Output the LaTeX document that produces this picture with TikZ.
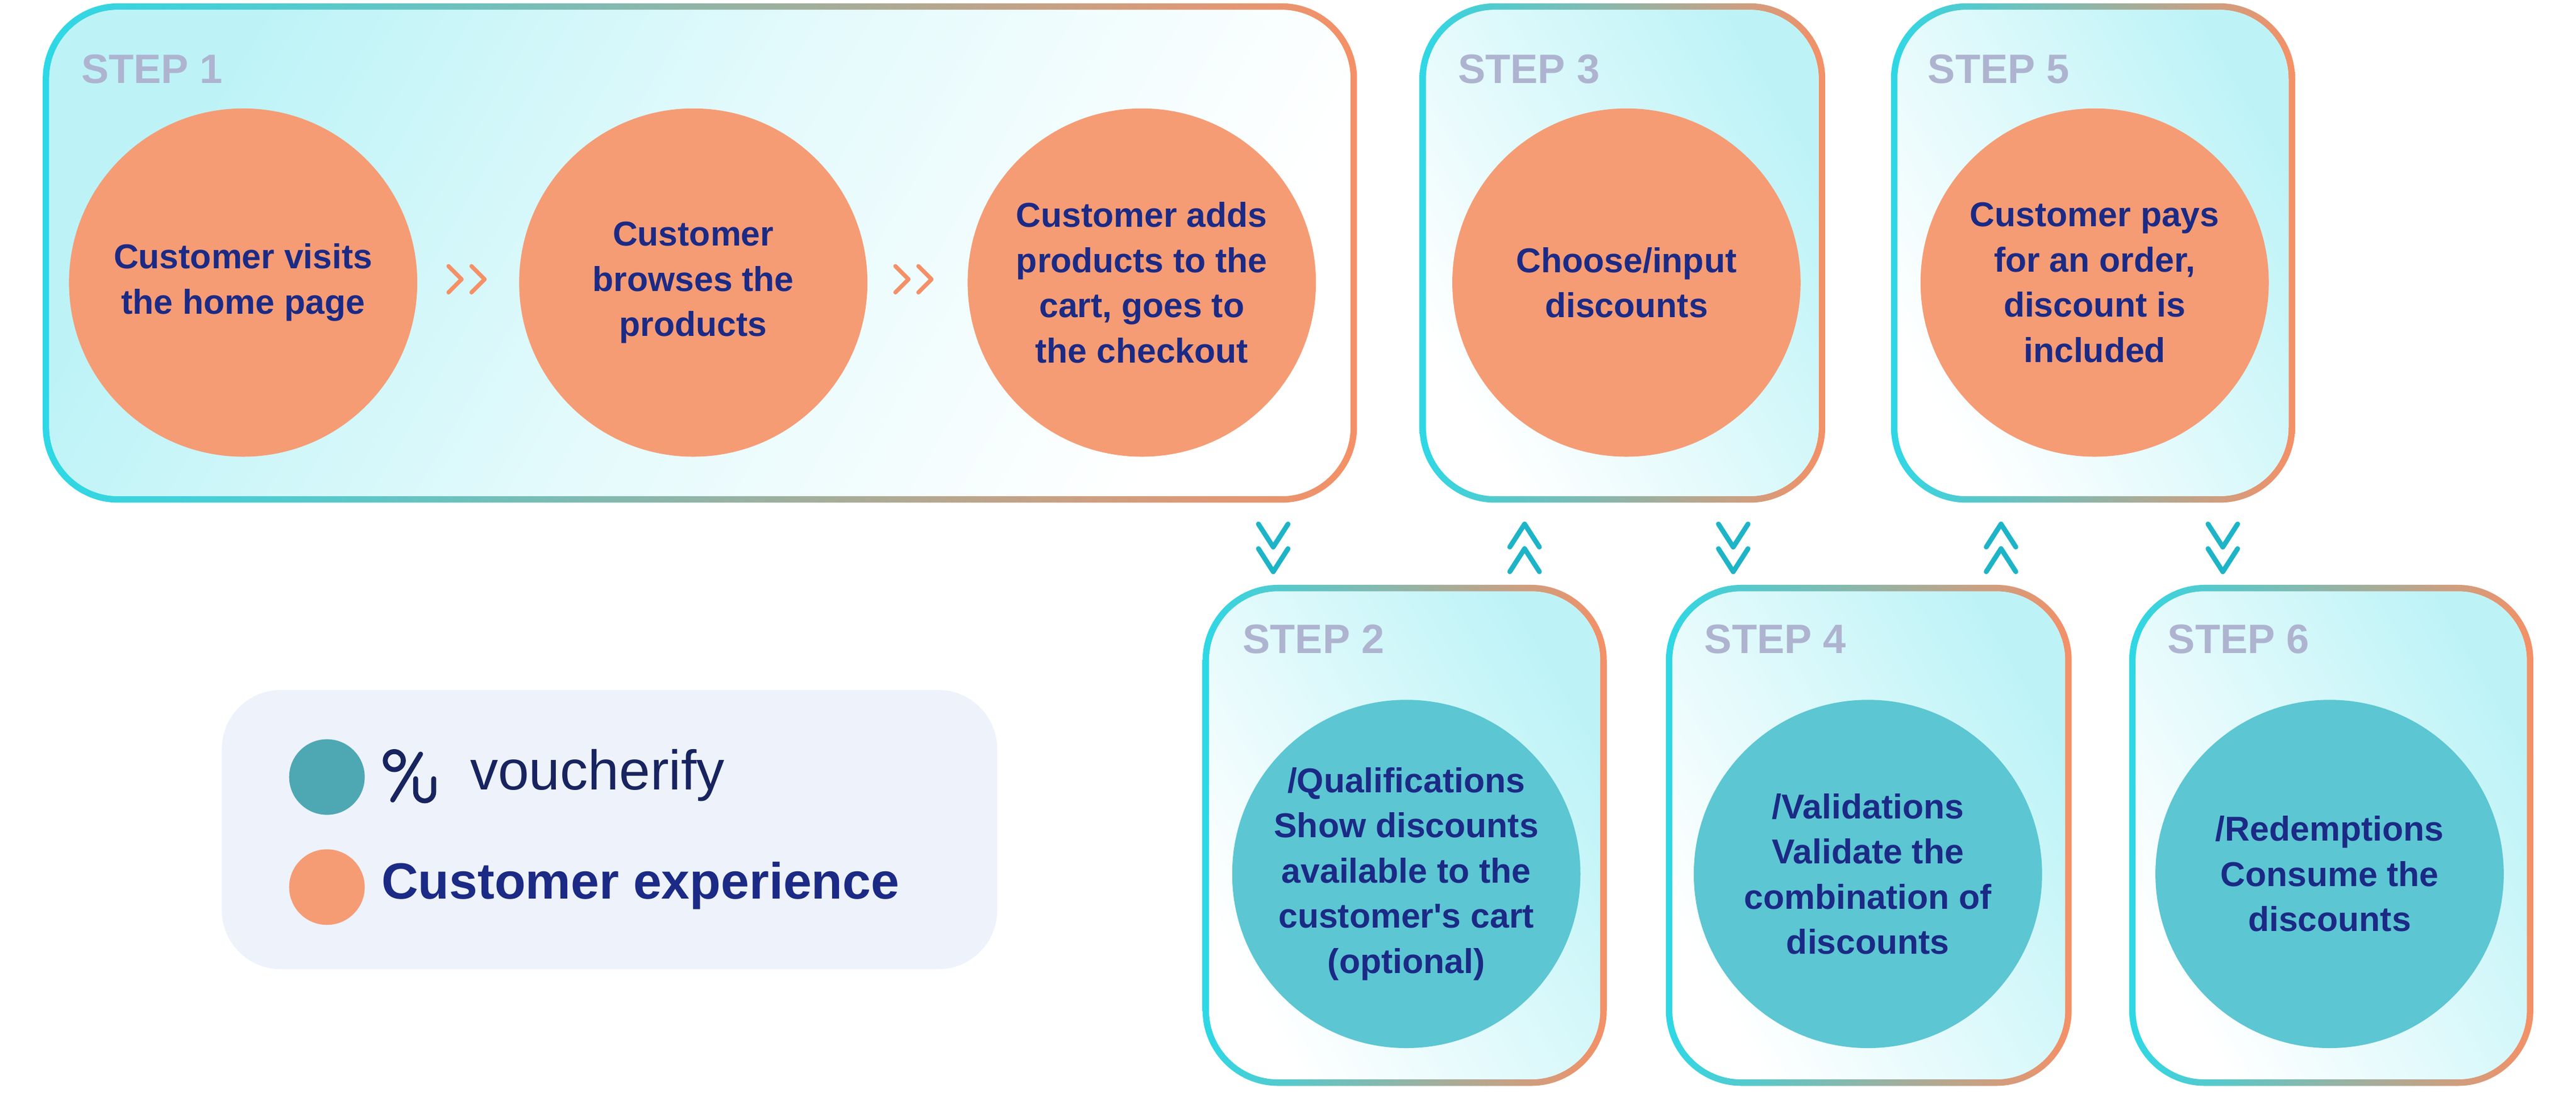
\documentclass[tikz,border=0pt]{standalone}
\usepackage{fontspec}
\setmainfont{Liberation Sans}
\begin{document}
\definecolor{cy}{HTML}{2DD8E6}
\definecolor{org}{HTML}{F59066}
\definecolor{lcy}{HTML}{BDF3F7}
\definecolor{ocirc}{HTML}{F59C75}
\definecolor{tcirc}{HTML}{5CC6D3}
\definecolor{navy}{HTML}{1B2A85}
\definecolor{stepc}{HTML}{AEB4CF}
\definecolor{chev}{HTML}{1EB4C8}
\definecolor{legbg}{HTML}{EEF2FB}
\definecolor{logo}{HTML}{17245F}
\begin{tikzpicture}[x=1pt,y=-1pt,
  circ/.style={circle,minimum size=212pt,inner sep=0pt,align=center,text=navy,font=\fontsize{21}{27.5}\selectfont\bfseries},
  oc/.style={circ,fill=ocirc},
  tc/.style={circ,fill=tcirc},
  steplbl/.style={anchor=west,text=stepc,font=\fontsize{25}{27}\selectfont\bfseries},
  chv/.style={chev,line width=3pt,line cap=round,line join=round},
  och/.style={org,line width=2.5pt,line cap=round,line join=round}]
\useasboundingbox (0,0) rectangle (1568,678);
\newcommand{\stepbox}[6]{%
  \shade[rounded corners=46pt,left color=cy,right color=org,shading angle=#5] (#1,#2) rectangle (#3,#4);
  \fill[white,rounded corners=42pt] ({#1+4},{#2+4}) rectangle ({#3-4},{#4-4});
  \shade[rounded corners=42pt,#6] ({#1+4},{#2+4}) rectangle ({#3-4},{#4-4});}
\stepbox{26}{2}{826}{306}{90}{left color=lcy,right color=white,middle color=white!60!lcy,shading angle=60}
\stepbox{864}{2}{1111}{306}{90}{left color=white,right color=lcy,shading angle=120}
\stepbox{1151}{2}{1397}{306}{90}{left color=white,right color=lcy,shading angle=120}
\stepbox{732}{356}{978}{661}{90}{left color=white,right color=lcy,shading angle=120}
\stepbox{1014}{356}{1261}{661}{90}{left color=white,right color=lcy,shading angle=120}
\stepbox{1296}{356}{1542}{661}{90}{left color=white,right color=lcy,shading angle=120}

\node[steplbl] (s1) at (46,42) {STEP 1};
\node[steplbl] (s3) at (884,42) {STEP 3};
\node[steplbl] (s5) at (1170,42) {STEP 5};
\node[steplbl] (s2) at (753,389) {STEP 2};
\node[steplbl] (s4) at (1034,389) {STEP 4};
\node[steplbl] (s6) at (1316,389) {STEP 6};

\node[oc] (c1) at (148,172) {Customer visits\\the home page};
\node[oc] (c2) at (422,172) {Customer\\browses the\\products};
\node[oc] (c3) at (695,172) {Customer adds\\products to the\\cart, goes to\\the checkout};
\node[oc] (c4) at (990,172) {Choose/input\\discounts};
\node[oc] (c5) at (1275,172) {Customer pays\\for an order,\\discount is\\included};
\node[tc] (c6) at (856,532) {/Qualifications\\Show discounts\\available to the\\customer\textquotesingle s cart\\(optional)};
\node[tc] (c7) at (1137,532) {/Validations\\Validate the\\combination of\\discounts};
\node[tc] (c8) at (1418,532) {/Redemptions\\Consume the\\discounts};

\foreach \x in {285,557}{
  \draw[och] (\x-12,162) -- (\x-4,170) -- (\x-12,178);
  \draw[och] (\x+2,162) -- (\x+10,170) -- (\x+2,178);}
\foreach \x in {775,1055,1353}{
  \draw[chv] (\x-9,319) -- (\x,333) -- (\x+9,319);
  \draw[chv] (\x-9,334) -- (\x,348) -- (\x+9,334);}
\foreach \x in {928,1218}{
  \draw[chv] (\x-9,333) -- (\x,319) -- (\x+9,333);
  \draw[chv] (\x-9,348) -- (\x,334) -- (\x+9,348);}

\fill[legbg,rounded corners=36pt] (135,420) rectangle (607,590);
\node[circle,fill=tcirc!85!black,minimum size=46pt,inner sep=0pt] (lt) at (199,473) {};
\node[circle,fill=ocirc,minimum size=46pt,inner sep=0pt] (lo) at (199,540) {};
\draw[logo,line width=3pt] (240,463) circle (5.5pt);
\draw[logo,line width=3pt,line cap=round] (239,487) -- (256,459);
\draw[logo,line width=3pt,line cap=round] (253,474) -- (253,482) arc[start angle=180,end angle=360,radius=5.5pt] -- (264,474);
\node[anchor=west,text=logo,font=\fontsize{34}{34}\selectfont,inner sep=0pt] (lv) at (286,472) {voucherify};
\node[anchor=west,text=navy,font=\fontsize{31}{31}\selectfont\bfseries,inner sep=0pt] (lc) at (232,539) {Customer experience};
\end{tikzpicture}
\end{document}
